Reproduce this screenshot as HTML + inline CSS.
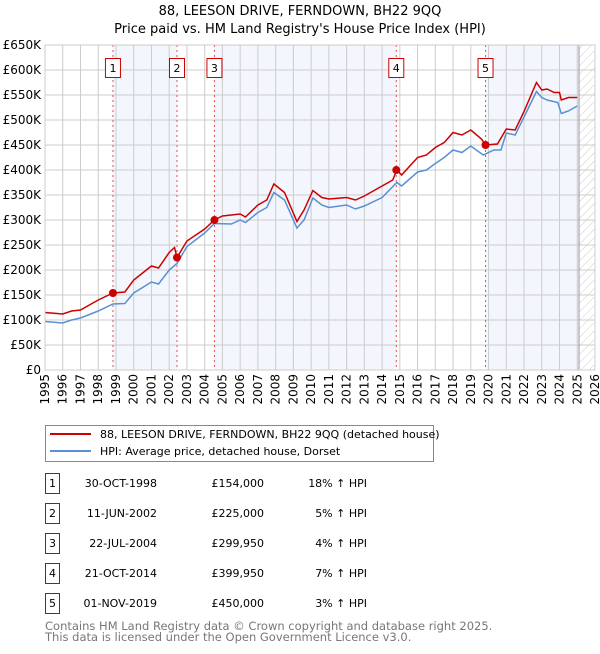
<!DOCTYPE html>
<html><head><meta charset="utf-8"><style>
body{margin:0;background:#fff;width:600px;height:650px;overflow:hidden;font-family:"DejaVu Sans","Liberation Sans",sans-serif;}
svg text{font-family:"DejaVu Sans","Liberation Sans",sans-serif;}
</style></head><body>
<svg id="chart" width="600" height="650" xmlns="http://www.w3.org/2000/svg">
<defs><pattern id="hatch" width="6" height="6" patternUnits="userSpaceOnUse" patternTransform="rotate(45)"><rect width="6" height="6" fill="#fff"/><line x1="0" y1="0" x2="0" y2="6" stroke="#ccc" stroke-width="1"/></pattern></defs>
<text x="300" y="15" text-anchor="middle" font-size="13" fill="#000">88, LEESON DRIVE, FERNDOWN, BH22 9QQ</text>
<text x="300" y="33" text-anchor="middle" font-size="13" fill="#000">Price paid vs. HM Land Registry's House Price Index (HPI)</text>
<g id="plot"></g>
<g>
<rect x="45.5" y="425.5" width="388" height="36" fill="#fff" stroke="#888"/>
<line x1="50" y1="434" x2="91" y2="434" stroke="#cc0000" stroke-width="2"/>
<text x="100" y="438" font-size="11">88, LEESON DRIVE, FERNDOWN, BH22 9QQ (detached house)</text>
<line x1="50" y1="451" x2="91" y2="451" stroke="#5b8fd4" stroke-width="2"/>
<text x="100" y="455" font-size="11">HPI: Average price, detached house, Dorset</text>
</g>
<g id="table" font-size="11"></g>
<text x="45" y="630" font-size="11.5" fill="#777">Contains HM Land Registry data © Crown copyright and database right 2025.</text>
<text x="45" y="641" font-size="11.5" fill="#777">This data is licensed under the Open Government Licence v3.0.</text>
</svg>
<script>
const hpiYears=[1995,1996,1996.5,1997,1998,1998.83,1999.5,2000,2001,2001.4,2002,2002.44,2003,2004,2004.55,2005.5,2006,2006.3,2007,2007.5,2007.9,2008.5,2009.2,2009.6,2010.1,2010.6,2011,2012,2012.5,2013,2014,2014.83,2015.1,2016,2016.5,2017,2017.5,2018,2018.5,2019,2019.7,2020.3,2020.7,2021,2021.5,2022,2022.7,2023,2023.3,2023.9,2024.1,2024.5,2025];
const hpiValues=[97,94,100,104,118,132,133,154,176,172,200,213,247,274,293,292,300,295,315,325,355,340,284,300,344,330,325,330,322,328,345,375,368,396,400,413,425,440,435,448,430,440,440,474,470,506,557,545,540,535,513,518,528];
const ppYears=[1995,1996,1996.5,1997,1998,1998.83,1999.5,2000,2001,2001.4,2002,2002.3,2002.44,2003,2004,2004.55,2005,2006,2006.3,2007,2007.5,2007.9,2008.5,2009.2,2009.6,2010.1,2010.6,2011,2012,2012.5,2013,2014,2014.6,2014.83,2015.1,2016,2016.5,2017,2017.5,2018,2018.5,2019,2019.6,2019.83,2020.5,2021,2021.5,2022,2022.7,2023,2023.3,2023.7,2024,2024.1,2024.5,2025];
const ppValues=[115,112,118,120,140,154,156,180,208,204,235,245,225,258,282,300,308,312,306,330,340,372,355,297,320,359,345,342,345,340,348,368,380,400,390,425,430,445,455,475,470,480,462,450,452,482,480,517,575,560,562,555,555,540,545,545];
const saleYears=[1998.83,2002.44,2004.55,2014.8,2019.83];
const saleValues=[154,225,299.95,399.95,450];
const saleLabels=["1","2","3","4","5"];
const saleDates=["30-OCT-1998","11-JUN-2002","22-JUL-2004","21-OCT-2014","01-NOV-2019"];
const salePrices=["£154,000","£225,000","£299,950","£399,950","£450,000"];
const saleHpi=["18% ↑ HPI","5% ↑ HPI","4% ↑ HPI","7% ↑ HPI","3% ↑ HPI"];
const yTicks=[0,50,100,150,200,250,300,350,400,450,500,550,600,650];
const yTickLabels=["£0","£50K","£100K","£150K","£200K","£250K","£300K","£350K","£400K","£450K","£500K","£550K","£600K","£650K"];
const xTicks=[1995,1996,1997,1998,1999,2000,2001,2002,2003,2004,2005,2006,2007,2008,2009,2010,2011,2012,2013,2014,2015,2016,2017,2018,2019,2020,2021,2022,2023,2024,2025,2026];

const L=45,R=595,T=45,B=370,X0=1995,X1=2026,YMAX=650;
const xs=v=>L+(v-X0)/(X1-X0)*(R-L);
const ys=v=>B-v/YMAX*(B-T);
const NS="http://www.w3.org/2000/svg";
function mk(tag,attrs,parent){const e=document.createElementNS(NS,tag);for(const k in attrs)e.setAttribute(k,attrs[k]);parent.appendChild(e);return e;}
const plot=document.getElementById('plot');
mk('rect',{x:L,y:T,width:R-L,height:B-T,fill:'#fff'},plot);
const bands=[[saleYears[0],saleYears[1]],[saleYears[2],saleYears[3]],[saleYears[4],2025.1]];
bands.forEach(b=>{const r=mk('rect',{x:xs(b[0]),y:T,width:xs(b[1])-xs(b[0]),height:B-T,fill:'#f3f6fd'},plot);

});
const h=mk('rect',{x:xs(2025.1),y:T,width:R-xs(2025.1),height:B-T,fill:'url(#hatch)'},plot);


yTicks.forEach((t,i)=>{mk('line',{x1:L,x2:R,y1:ys(t),y2:ys(t),stroke:'#ccc','stroke-width':1},plot);
const tx=mk('text',{x:L-4,y:ys(t)+4,'text-anchor':'end','font-size':12,fill:'#000'},plot);tx.textContent=yTickLabels[i];

});
xTicks.forEach(t=>{mk('line',{x1:xs(t),x2:xs(t),y1:T,y2:B,stroke:'#ccc','stroke-width':1},plot);
const tx=mk('text',{x:0,y:0,'text-anchor':'end','font-size':12,fill:'#000',transform:`translate(${xs(t)+4},374) rotate(-90)`},plot);tx.textContent=t;

});
mk('line',{x1:xs(2025.1),x2:xs(2025.1),y1:T,y2:B,stroke:'#999','stroke-width':1},plot);
saleYears.forEach(s=>{const l=mk('line',{x1:xs(s),x2:xs(s),y1:T,y2:B,stroke:'#e05050','stroke-width':1,'stroke-dasharray':'2,3'},plot);

});
const hp=mk('polyline',{points:hpiYears.map((y,i)=>xs(y)+','+ys(hpiValues[i])).join(' '),fill:'none',stroke:'#5b8fd4','stroke-width':1.5},plot);


const pp=mk('polyline',{points:ppYears.map((y,i)=>xs(y)+','+ys(ppValues[i])).join(' '),fill:'none',stroke:'#cc0000','stroke-width':1.5},plot);


saleYears.forEach((s,i)=>{const c=mk('circle',{cx:xs(s),cy:ys(saleValues[i]),r:4,fill:'#cc0000'},plot);


mk('rect',{x:xs(s)-7.5,y:58.5,width:15,height:19,fill:'#fff',stroke:'#cc0000'},plot);
const t=mk('text',{x:xs(s),y:72,'text-anchor':'middle','font-size':11},plot);t.textContent=saleLabels[i];

});
mk('rect',{x:L,y:T,width:R-L,height:B-T,fill:'none',stroke:'#ccc'},plot);
const tb=document.getElementById('table');
saleLabels.forEach((lab,i)=>{const cy=483+i*30;
const g=mk('g',{},tb);


mk('rect',{x:45.5,y:cy-9.5,width:14,height:20,fill:'#fff',stroke:'#cc0000'},g);
const vals=[[lab,52.5,'middle'],[saleDates[i],157,'end'],[salePrices[i],264,'end'],[saleHpi[i],367,'end']];
vals.forEach(v=>{const t=mk('text',{x:v[1],y:cy+4,'text-anchor':v[2],'font-size':11},g);t.textContent=v[0];});});
</script>
</body></html>
